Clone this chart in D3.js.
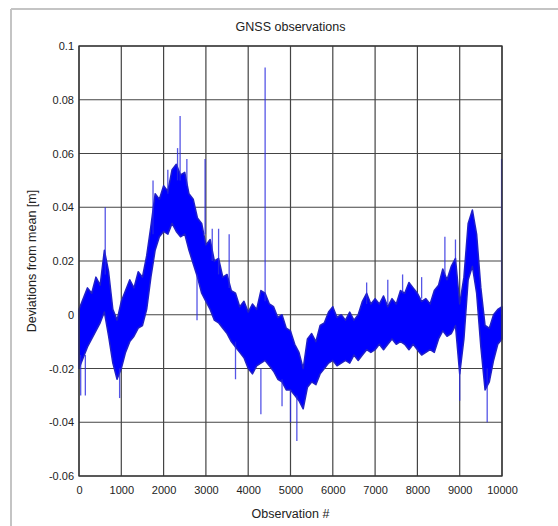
<!DOCTYPE html>
<html>
<head>
<meta charset="utf-8">
<script src="https://cdn.jsdelivr.net/npm/d3@7"></script>
<style>
  html, body { margin: 0; padding: 0; background: #fff; overflow: hidden; }
  svg { display: block; }
  svg text { font-family: "Liberation Sans", Arial, sans-serif; fill: #222; }
</style>
</head>
<body>
<div></div>
<script>
// observation index of each envelope sample (every 100 obs)
const obsSteps = d3.range(0, 10001, 100);
// upper edge of the dense band, metres
const upperEdge = [
  0.002, 0.006, 0.010, 0.008, 0.014, 0.011, 0.024, 0.016, 0.002, -0.002,
  0.005, 0.009, 0.013, 0.010, 0.016, 0.014, 0.022, 0.033, 0.045, 0.043,
  0.048, 0.046, 0.054, 0.056, 0.052, 0.053, 0.045, 0.043, 0.036, 0.034,
  0.026, 0.028, 0.020, 0.021, 0.014, 0.015, 0.009, 0.008, 0.003, 0.005,
  0.001, 0.004, 0.002, 0.009, 0.008, 0.004, 0.003, -0.001, 0.000, -0.005,
  -0.006, -0.011, -0.014, -0.020, -0.009, -0.007, -0.010, -0.004, -0.003, 0.001,
  0.003, -0.001, 0.000, -0.002, 0.001, -0.002, 0.000, 0.005, 0.008, 0.004,
  0.006, 0.004, 0.007, 0.003, 0.006, 0.004, 0.009, 0.008, 0.012, 0.010,
  0.008, 0.005, 0.006, 0.004, 0.009, 0.011, 0.017, 0.013, 0.018, 0.021,
  0.004, 0.014, 0.034, 0.039, 0.030, 0.010, -0.004, -0.005, 0.000, 0.002,
  0.003
];
// lower edge of the dense band, metres
const lowerEdge = [
  -0.020, -0.016, -0.012, -0.009, -0.006, -0.003, 0.001, -0.008, -0.018, -0.024,
  -0.020, -0.014, -0.010, -0.008, -0.005, -0.004, 0.002, 0.014, 0.024, 0.029,
  0.031, 0.030, 0.034, 0.031, 0.029, 0.030, 0.024, 0.019, 0.014, 0.008,
  0.005, 0.002, -0.002, -0.003, -0.005, -0.007, -0.010, -0.012, -0.014, -0.016,
  -0.020, -0.022, -0.019, -0.018, -0.017, -0.019, -0.021, -0.024, -0.025, -0.028,
  -0.028, -0.030, -0.032, -0.035, -0.027, -0.025, -0.026, -0.022, -0.020, -0.018,
  -0.017, -0.019, -0.018, -0.017, -0.018, -0.015, -0.017, -0.015, -0.013, -0.014,
  -0.013, -0.011, -0.013, -0.011, -0.009, -0.011, -0.010, -0.011, -0.013, -0.011,
  -0.013, -0.015, -0.014, -0.013, -0.014, -0.009, -0.006, -0.008, -0.007, -0.004,
  -0.022, -0.009, 0.013, 0.018, 0.008, -0.012, -0.028, -0.025, -0.017, -0.011,
  -0.009
];
// isolated outliers: observation #, from, to
const spikeObs  = [40, 150, 620, 960, 1750, 2100, 2330, 2390, 2550, 2790, 2980, 3150, 3300, 3550, 3700, 4300, 4400, 4800, 5000, 5150, 6800, 7300, 7650, 8100, 8650, 8900, 9000, 9650, 9990];
const spikeFrom = [-0.015, -0.015, 0.015, -0.020, 0.030, 0.045, 0.050, 0.050, 0.048, 0.015, 0.030, 0.020, 0.015, 0.010, -0.010, -0.020, 0.005, -0.024, -0.028, -0.030, 0.004, 0.004, 0.008, 0.006, 0.015, 0.020, -0.020, -0.020, 0.000];
const spikeTo   = [-0.030, -0.030, 0.040, -0.031, 0.050, 0.054, 0.062, 0.074, 0.058, -0.002, 0.058, 0.032, 0.032, 0.030, -0.024, -0.037, 0.092, -0.034, -0.040, -0.047, 0.012, 0.013, 0.015, 0.014, 0.029, 0.028, -0.032, -0.040, 0.058];

const xTicks = d3.range(0, 10001, 1000);
const yTicks = [0.1, 0.08, 0.06, 0.04, 0.02, 0, -0.02, -0.04, -0.06];

const width = 558, height = 526;
const margin = { top: 46, right: 56, bottom: 50, left: 79 };
const innerWidth = width - margin.left - margin.right;
const innerHeight = height - margin.top - margin.bottom;

const svg = d3.select("div").append("svg").attr("width", width).attr("height", height);

// outer frame of the figure (only top and left edges fall inside the picture)
svg.append("line").attr("x1", 11).attr("x2", width).attr("y1", 9).attr("y2", 9)
  .attr("stroke", "#c4c4c4").attr("stroke-width", 2);
svg.append("line").attr("x1", 11).attr("x2", 11).attr("y1", 9).attr("y2", height)
  .attr("stroke", "#c4c4c4").attr("stroke-width", 2);

const chart = svg.append("g").attr("transform", `translate(${margin.left},${margin.top})`);

const xScale = d3.scaleLinear().domain([0, 10000]).range([0, innerWidth]);
const yScale = d3.scaleLinear().domain([-0.06, 0.1]).range([innerHeight, 0]);

// grid
chart.append("g").selectAll("line").data(xTicks).enter().append("line")
  .attr("x1", d => xScale(d)).attr("x2", d => xScale(d))
  .attr("y1", 0).attr("y2", innerHeight)
  .attr("stroke", "#444").attr("stroke-width", 1.2);
chart.append("g").selectAll("line").data(yTicks).enter().append("line")
  .attr("x1", 0).attr("x2", innerWidth)
  .attr("y1", d => yScale(d)).attr("y2", d => yScale(d))
  .attr("stroke", "#444").attr("stroke-width", 1.2);

// signal band
const band = obsSteps.map((o, i) => ({ obs: o, hi: upperEdge[i], lo: lowerEdge[i] }));
const area = d3.area()
  .x(d => xScale(d.obs))
  .y0(d => yScale(d.lo))
  .y1(d => yScale(d.hi));
chart.append("path").datum(band)
  .attr("d", area)
  .attr("fill", "#0000ff")
  .attr("stroke", "#2020c8").attr("stroke-width", 1.5).attr("stroke-linejoin", "round");

// outlier spikes
chart.append("g").selectAll("line").data(spikeObs).enter().append("line")
  .attr("x1", d => xScale(d)).attr("x2", d => xScale(d))
  .attr("y1", (d, i) => yScale(spikeFrom[i])).attr("y2", (d, i) => yScale(spikeTo[i]))
  .attr("stroke", "#2a2ae0").attr("stroke-width", 1.3).attr("stroke-opacity", 0.8);

// axes
const xAxis = d3.axisBottom(xScale).tickValues(xTicks).tickSize(0).tickPadding(10).tickFormat(d3.format("d"));
const yAxis = d3.axisLeft(yScale).tickValues(yTicks).tickSize(0).tickPadding(5).tickFormat(d => d === 0 ? "0" : String(+d.toFixed(2)));
chart.append("g").attr("transform", `translate(0,${innerHeight})`).call(xAxis)
  .call(g => g.select(".domain").remove())
  .selectAll("text").attr("font-size", 11).attr("fill", "#222");
chart.append("g").call(yAxis)
  .call(g => g.select(".domain").remove())
  .selectAll("text").attr("font-size", 11).attr("fill", "#222");

// box
chart.append("rect").attr("width", innerWidth).attr("height", innerHeight)
  .attr("fill", "none").attr("stroke", "#333").attr("stroke-width", 1.3);

// labels
svg.append("text").attr("x", margin.left + innerWidth / 2).attr("y", 31)
  .attr("text-anchor", "middle").attr("font-size", 12.5).text("GNSS observations");
svg.append("text").attr("x", margin.left + innerWidth / 2).attr("y", 518)
  .attr("text-anchor", "middle").attr("font-size", 12.5).text("Observation #");
svg.append("text").attr("transform", `translate(36,${margin.top + innerHeight / 2}) rotate(-90)`)
  .attr("text-anchor", "middle").attr("font-size", 12.5).text("Deviations from mean [m]");
</script>
</body>
</html>
